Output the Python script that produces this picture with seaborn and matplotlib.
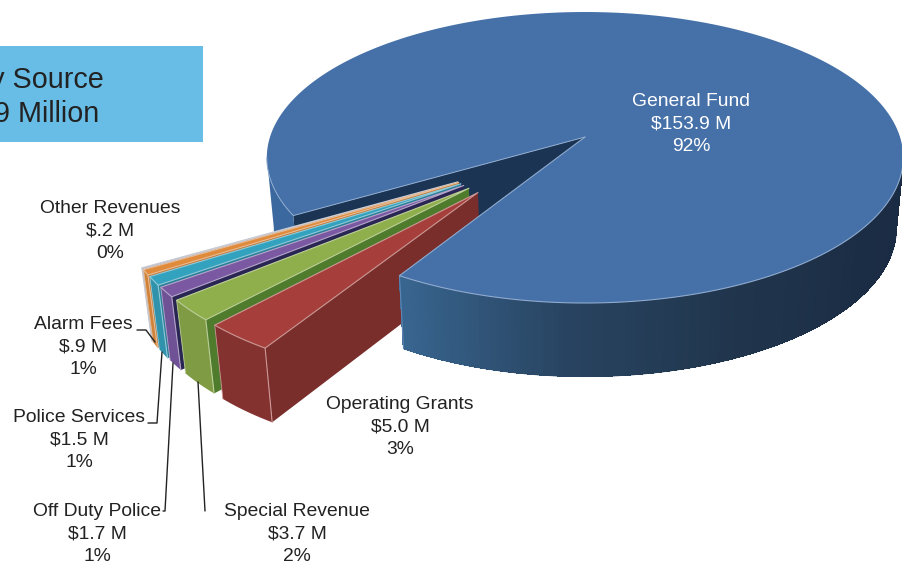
import numpy as np
import matplotlib
matplotlib.use("Agg")
import matplotlib.pyplot as plt
import seaborn as sns
from matplotlib.collections import LineCollection, PolyCollection
from matplotlib.patches import Polygon, Rectangle

# chart data
names = ['General Fund', 'Operating Grants', 'Special Revenue', 'Off Duty Police',
         'Police Services', 'Alarm Fees', 'Other Revenues']
values = [153.9, 5.0, 3.7, 1.7, 1.5, 0.9, 0.2]
value_labels = ['$153.9 M', '$5.0 M', '$3.7 M', '$1.7 M', '$1.5 M', '$.9 M', '$.2 M']
pct_labels = ['92%', '3%', '2%', '1%', '1%', '1%', '0%']
title_lines = ['Revenue by Source', '$166.9 Million']

# colours: top, cut side, outer wall
top_cols = ['#4570a8', '#a63f3c', '#8fae4c', '#7a58a2', '#33a2bf', '#e08a3c', '#a3a6b5']
side_cols = ['#1b3453', '#792e2b', '#4f7c2c', '#2a2654', '#2a7f9a', '#c27530', '#7a7d90']
wall_cols = ['#355f92', '#843230', '#7f9c45', '#6f5296', '#3192ab', '#d08238', '#8f92a3']

label_pos = [(691, 122), (400, 425), (297, 532), (97, 532), (79, 438), (83, 345), (110, 229)]
leaders = [
    [(137, 330), (146, 330), (155, 342)],
    [(148, 423), (157, 423), (162, 352)],
    [(163, 511), (165, 511), (173, 363)],
    [(205, 511), (198, 382)],
]

sns.set_theme(style="white")
plt.rcParams['font.family'] = ['Liberation Sans', 'DejaVu Sans']

# ground plane -> screen (pixels), unit circle seen in perspective
CX, CY = 585, 137
A, B, K = 315, 142.6, 0.141
START = 121.2


def to_screen(X, Y):
    w = 1 - K * np.asarray(Y)
    return CX + A * np.asarray(X) / w, CY + B * np.asarray(Y) / w


def drop(x, y):
    # the lower face of the pie
    return CX + (x - CX) * 0.978, y + 70 + 0.02 * (y - CY)


def rim(a0, a1, off=(0, 0), step=1.0):
    n = max(2, int(abs(a1 - a0) / step) + 1)
    t = np.radians(np.linspace(a0, a1, n))
    return to_screen(np.cos(t) + off[0], np.sin(t) + off[1])


def wall(ax, a0, a1, off, color, z):
    x, y = rim(a0, a1, off)
    xb, yb = drop(x, y)
    pts = np.r_[np.c_[x, y], np.c_[xb, yb][::-1]]
    ax.add_patch(Polygon(pts, fc=color, ec='none', zorder=z))


fig = plt.figure(figsize=(9.02, 5.63), dpi=100)
ax = fig.add_axes([0, 0, 1, 1])
ax.set_xlim(0, 902)
ax.set_ylim(563, 0)
ax.axis('off')

total = sum(values)
sweeps = [v / total * 360 for v in values]
gf_start = START + sum(sweeps[1:])
gf_end = START + 360

# general fund, parts behind the small slices
ax_x, ax_y = to_screen(0, 0)
ex, ey = rim(gf_start, gf_start, step=1)
ex, ey = ex[0], ey[0]
face = [(ax_x, ax_y), (ex, ey), drop(ex, ey), drop(ax_x, ax_y)]
ax.add_patch(Polygon(face, fc=side_cols[0], ec='none', zorder=1))
wall(ax, gf_start, 172, (0, 0), '#3b699f', 1.5)

# small slices, back to front
angle = START
slices = []
for i in range(1, len(values)):
    slices.append((i, angle, angle + sweeps[i]))
    angle += sweeps[i]

z = 2
for i, a0, a1 in reversed(slices):
    mid = (a0 + a1) / 2
    d = np.radians(131 + 0.49 * (mid - 126.4))
    off = (0.49 * np.cos(d), 0.49 * np.sin(d))
    apx, apy = to_screen(off[0], off[1])
    rx, ry = rim(a0, a1, off, step=0.5)
    rbx, rby = drop(rx, ry)
    edge = sns.light_palette(top_cols[i], 3, reverse=True)[1]
    side = [(apx, apy), (rx[0], ry[0]), (rbx[0], rby[0]), drop(apx, apy)]
    ax.add_patch(Polygon(side, fc=side_cols[i], ec='none', zorder=z))
    wall(ax, a0, a1, off, wall_cols[i], z + 0.1)
    top = np.r_[[(apx, apy)], np.c_[rx, ry]]
    ax.add_patch(Polygon(top, fc=top_cols[i], ec=edge, lw=0.8, zorder=z + 0.2,
                         joinstyle='round'))
    ax.plot([rx[0], rbx[0]], [ry[0], rby[0]], color=edge, lw=0.8, zorder=z + 0.3)
    ax.plot([rx[-1], rbx[-1]], [ry[-1], rby[-1]], color=edge, lw=0.6, zorder=z + 0.3)
    z += 1

# general fund front wall with its shading, then the top
grad = sns.blend_palette(['#1a2b42', '#1b2d45', '#20354c', '#284360', '#38658f'], 130)
x, y = rim(8, START, step=(START - 8) / 130)
xb, yb = drop(x, y)
n_q = len(x) - 1
quads = [[(x[j], y[j]), (x[j + 1], y[j + 1]), (xb[j + 1], yb[j + 1]), (xb[j], yb[j])]
         for j in range(n_q)]
ax.add_collection(PolyCollection(quads, facecolors=grad[:n_q], edgecolors=grad[:n_q],
                                 linewidths=0.4, antialiaseds=False, zorder=20))
# smooth the lower outline of the wall
segs = [[(xb[j], yb[j]), (xb[j + 1], yb[j + 1])] for j in range(n_q)]
ax.add_collection(LineCollection(segs, colors=grad[:n_q], linewidths=1.0, zorder=20.5))
ax.plot([x[-1], xb[-1]], [y[-1], yb[-1]], color='#5f86b5', lw=0.8, zorder=20.6)

x, y = rim(gf_start, gf_end)
top = np.r_[[(ax_x, ax_y)], np.c_[x, y]]
ax.add_patch(Polygon(top, fc=top_cols[0], ec='none', zorder=21))

# pale edge only on the sides facing the viewer
x, y = rim(8, START)
ax.plot(np.r_[x, ax_x], np.r_[y, ax_y], color='#8fabcf', lw=0.8, zorder=22)
x, y = rim(gf_start, 172)
ax.plot(np.r_[ax_x, x], np.r_[ax_y, y], color='#8fabcf', lw=0.7, zorder=22)

# title box, runs off the left side
ax.add_patch(Rectangle((-10, 46), 213, 96, fc='#67bde6', ec='none', zorder=30))
ax.text(104, 88, title_lines[0], ha='right', va='baseline', fontsize=20.7, color='#222222', zorder=31)
ax.text(99, 122, title_lines[1], ha='right', va='baseline', fontsize=20.7, color='#222222', zorder=31)

# labels, one text per line to hold the line pitch
for i, name in enumerate(names):
    col = 'white' if i == 0 else '#222222'
    lx, ly = label_pos[i]
    for k, line in enumerate([name, value_labels[i], pct_labels[i]]):
        ax.text(lx, ly + 6.5 + (k - 1) * 22.7, line, ha='center', va='baseline',
                fontsize=13.9, color=col, zorder=32)

for line in leaders:
    xs, ys = zip(*line)
    ax.plot(xs, ys, color='#222222', lw=1, zorder=31)

fig.savefig('out.png', dpi=100)
